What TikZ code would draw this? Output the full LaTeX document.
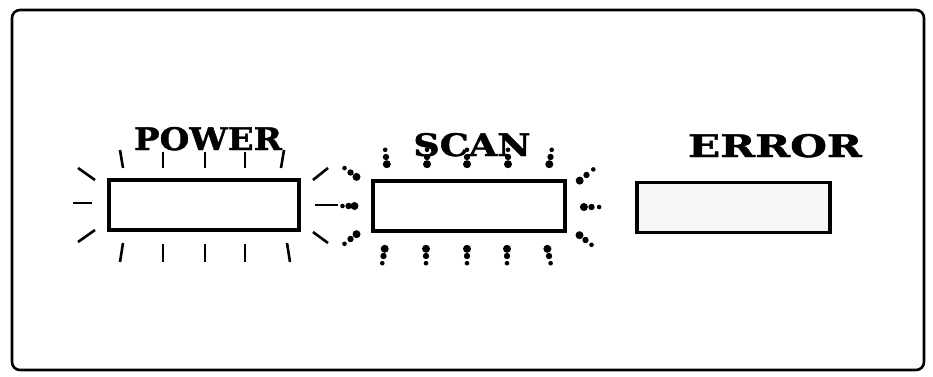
\documentclass[tikz,border=0pt]{standalone}
\usepackage{fontspec}
\newfontfamily\labfont[BoldFeatures={FakeBold=1.2}]{DejaVu Serif}
\usetikzlibrary{calc}
\tikzset{
  lamp/.style={draw=black, line width=3.5pt, fill=white, minimum height=50pt, inner sep=0pt},
  lab/.style={anchor=base, inner sep=0pt, font=\labfont\bfseries\fontsize{31}{31}\selectfont},
  ray/.style={line width=2.6pt, line cap=butt},
  frame/.style={draw=black, line width=2.6pt, rounded corners=8pt}
}
\newcommand\dray[2]{%
  \fill ($(#1)!0.1!(#2)$) circle (4pt);
  \fill ($(#1)!0.5!(#2)$) circle (3.2pt);
  \fill ($(#1)!0.9!(#2)$) circle (2.3pt);
}
\begin{document}
\begin{tikzpicture}[x=1pt,y=-1pt]
\useasboundingbox (0,0) rectangle (933,376);
\draw[frame] (12,10) rectangle (924,370);

% lamps
\node[lamp, minimum width=190pt] (power) at (204,205) {};
\node[lamp, minimum width=192pt] (scan) at (469,206) {};
\node[lamp, minimum width=193pt, fill=gray!6] (error) at (733.5,207.5) {};

% labels
\node[lab] (powerlab) at (208,150) {\scalebox{1.1}[1]{POWER}};
\node[lab] (scanlab) at (472,156) {\scalebox{1.18}[1]{SCAN}};
\node[lab] (errorlab) at (775,157) {\scalebox{1.36}[1]{ERROR}};

% POWER rays (solid)
\draw[ray] (123,168) -- (120,150);
\draw[ray] (163,168) -- (163,152);
\draw[ray] (205,168) -- (205,152);
\draw[ray] (245,168) -- (245,152);
\draw[ray] (281,168) -- (284,150);
\draw[ray] (123,243) -- (120,262);
\draw[ray] (163,244) -- (163,262);
\draw[ray] (205,244) -- (205,262);
\draw[ray] (245,244) -- (245,262);
\draw[ray] (287,243) -- (290,262);
\draw[ray] (95,180) -- (78,168);
\draw[ray] (92,203) -- (73,203);
\draw[ray] (95,230) -- (78,242);
\draw[ray] (313,180) -- (328,168);
\draw[ray] (315,205) -- (338,205);
\draw[ray] (313,232) -- (328,243);

% SCAN rays (dotted)
\dray{387,166}{385,148}
\dray{427,166}{427,148}
\dray{467,166}{467,148}
\dray{508,166}{508,148}
\dray{549,166}{552,148}
\dray{385,247}{382,265}
\dray{426,247}{426,265}
\dray{467,247}{467,265}
\dray{507,247}{507,265}
\dray{547,247}{551,265}
\dray{358,178}{343,167}
\dray{356,206}{341,206}
\dray{358,233}{343,245}
\dray{578,182}{595,168}
\dray{582,207}{601,207}
\dray{578,234}{593,246}
\end{tikzpicture}
\end{document}
